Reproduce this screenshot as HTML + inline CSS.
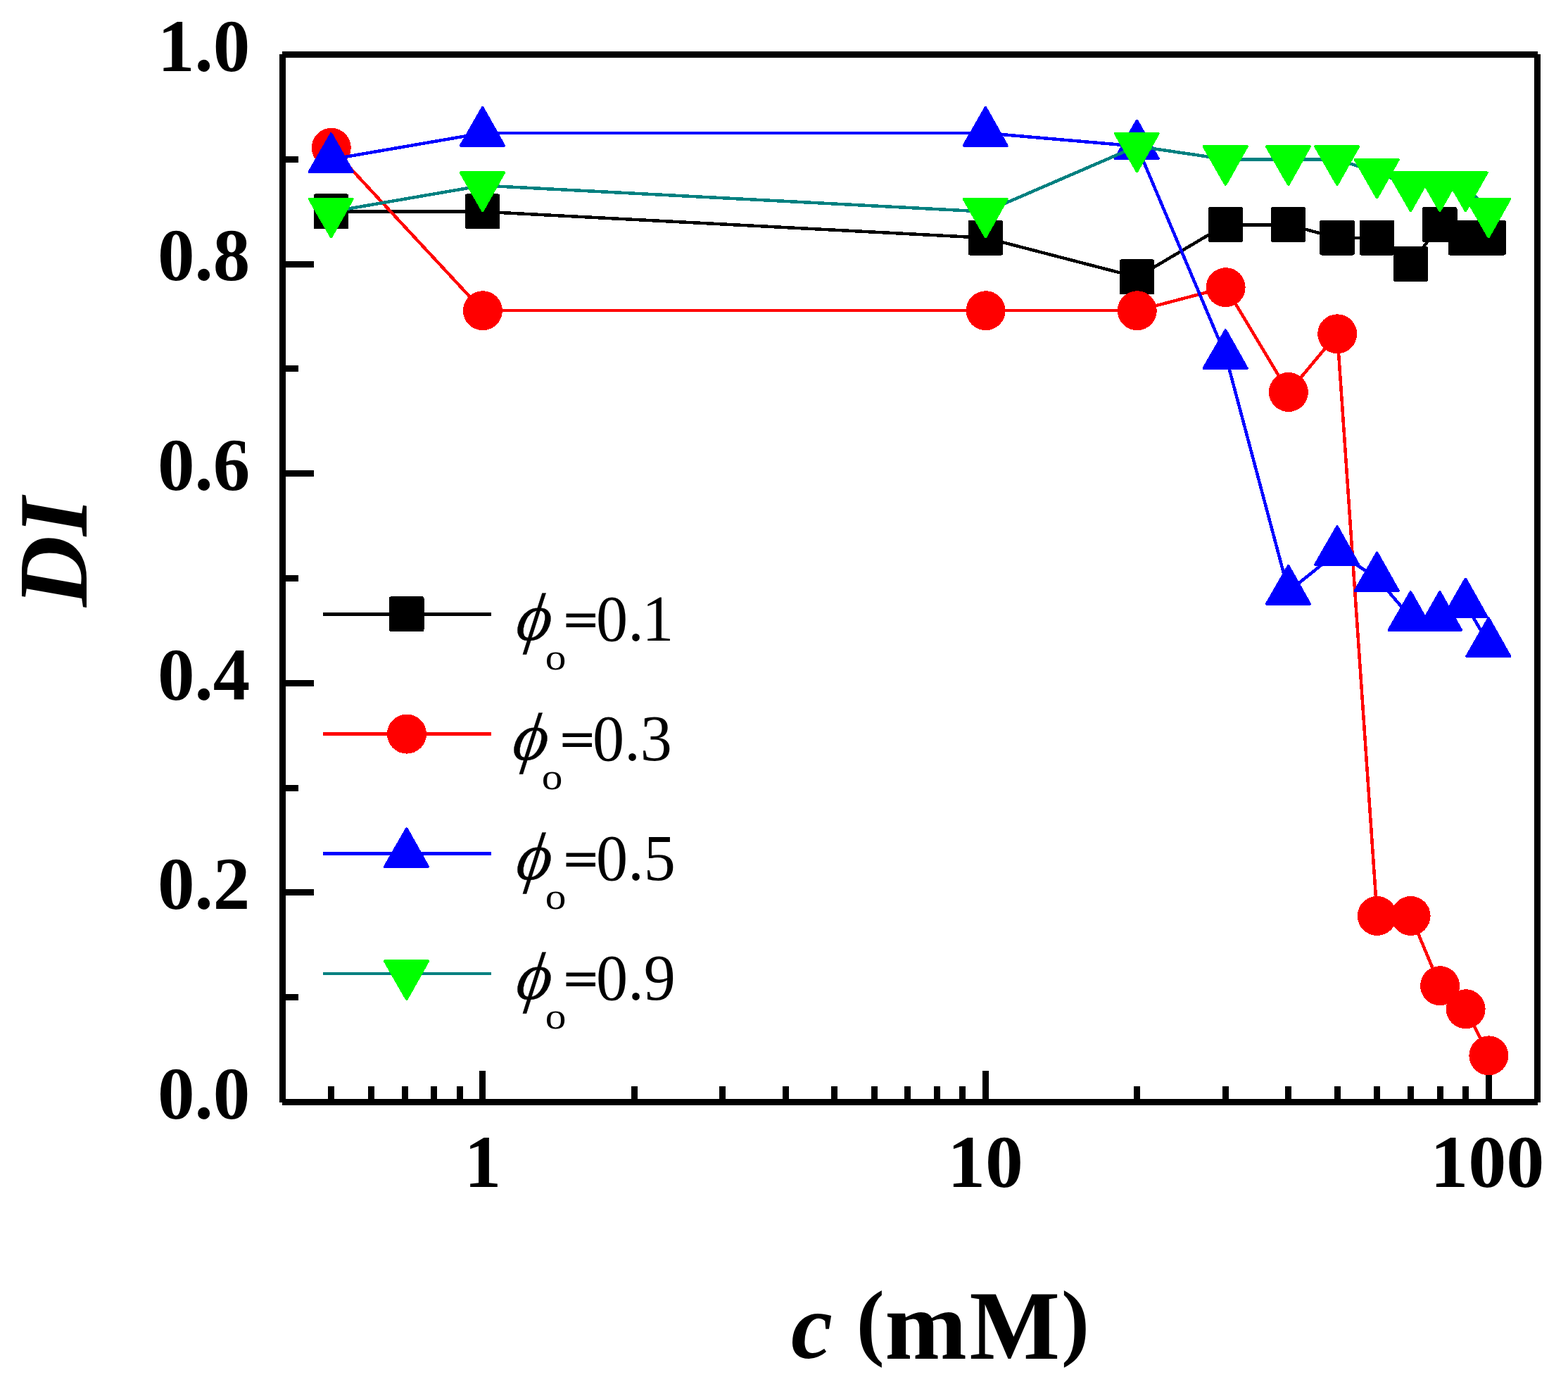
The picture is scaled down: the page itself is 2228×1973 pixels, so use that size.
<!DOCTYPE html>
<html lang="en">
<head>
<meta charset="utf-8">
<title>DI versus c (mM)</title>
<style>
html,body{margin:0;padding:0;background:#fff;}
body{width:2228px;height:1973px;overflow:hidden;}
svg{display:block;}
text{font-family:"Liberation Serif","DejaVu Serif",serif;fill:#000;}
.tk{font-weight:bold;font-size:105px;}
.lg{font-size:92px;}
.ax{font-weight:bold;}
</style>
</head>
<body>
<svg width="2228" height="1973" viewBox="0 0 2228 1973">
<rect width="2228" height="1973" fill="#fff"/>
<g stroke="#000" stroke-width="9" fill="none" shape-rendering="crispEdges">
<path d="M401 77.5H2185 M401 1565.5H2185 M401.5 77V1566 M2184.6 77V1566"/>
<path d="M401.5 1416.7h22.5 M401.5 1267.9h44.5 M401.5 1119.1h22.5 M401.5 970.3h44.5 M401.5 821.5h22.5 M401.5 672.7h44.5 M401.5 523.9h22.5 M401.5 375.1h44.5 M401.5 226.3h22.5 M470.76 1565.5v-22.5 M527.35 1565.5v-22.5 M575.2 1565.5v-22.5 M616.65 1565.5v-22.5 M653.21 1565.5v-22.5 M685.91 1565.5v-44.5 M901.06 1565.5v-22.5 M1026.92 1565.5v-22.5 M1116.21 1565.5v-22.5 M1185.48 1565.5v-22.5 M1242.07 1565.5v-22.5 M1289.91 1565.5v-22.5 M1331.36 1565.5v-22.5 M1367.92 1565.5v-22.5 M1400.62 1565.5v-44.5 M1615.77 1565.5v-22.5 M1741.63 1565.5v-22.5 M1830.92 1565.5v-22.5 M1900.19 1565.5v-22.5 M1956.78 1565.5v-22.5 M2004.63 1565.5v-22.5 M2046.07 1565.5v-22.5 M2082.63 1565.5v-22.5 M2115.34 1565.5v-44.5"/>
</g>
<g class="tk" text-anchor="end">
<text x="355.3" y="1588.8">0.0</text>
<text x="355.3" y="1291.2">0.2</text>
<text x="355.3" y="993.6">0.4</text>
<text x="355.3" y="696">0.6</text>
<text x="355.3" y="398.4">0.8</text>
<text x="355.3" y="100.8">1.0</text>
</g>
<g class="tk" text-anchor="middle">
<text transform="translate(685.91 1685.7) scale(1.0 1)">1</text>
<text transform="translate(1400.02 1685.7) scale(1.025 1)">10</text>
<text transform="translate(2113.34 1685.7) scale(1.03 1)">100</text>
</g>
<text class="ax" font-size="140" font-style="italic" transform="translate(122.6 862) rotate(-90)">DI</text>
<text class="ax" font-size="140"><tspan x="1124" y="1929.3" font-size="133" font-style="italic">c</tspan> <tspan x="1216.7" y="1917.2" font-size="120">(</tspan><tspan x="1257.2" y="1929.5">m</tspan><tspan x="1377.6" y="1929.5" textLength="128.5" lengthAdjust="spacingAndGlyphs">M</tspan><tspan x="1508.1" y="1917.2" font-size="120">)</tspan></text>
<g shape-rendering="crispEdges">
<polyline points="470.76,300.7 685.91,300.7 1400.62,337.9 1615.77,393.7 1741.63,319.3 1830.92,319.3 1900.19,337.9 1956.78,337.9 2004.63,375.1 2046.07,319.3 2082.63,337.9 2115.34,337.9" fill="none" stroke="#000" stroke-width="4.5" stroke-linejoin="round"/>
<rect x="445.76" y="275.4" width="49.5" height="50" rx="3" fill="#000"/>
<rect x="660.91" y="275.4" width="49.5" height="50" rx="3" fill="#000"/>
<rect x="1375.62" y="312.6" width="49.5" height="50" rx="3" fill="#000"/>
<rect x="1590.77" y="368.4" width="49.5" height="50" rx="3" fill="#000"/>
<rect x="1716.63" y="294" width="49.5" height="50" rx="3" fill="#000"/>
<rect x="1805.92" y="294" width="49.5" height="50" rx="3" fill="#000"/>
<rect x="1875.19" y="312.6" width="49.5" height="50" rx="3" fill="#000"/>
<rect x="1931.78" y="312.6" width="49.5" height="50" rx="3" fill="#000"/>
<rect x="1979.63" y="349.8" width="49.5" height="50" rx="3" fill="#000"/>
<rect x="2021.07" y="294" width="49.5" height="50" rx="3" fill="#000"/>
<rect x="2057.63" y="312.6" width="49.5" height="50" rx="3" fill="#000"/>
<rect x="2090.34" y="312.6" width="49.5" height="50" rx="3" fill="#000"/>
<polyline points="470.76,209.77 685.91,441.23 1400.62,441.23 1615.77,441.23 1741.63,408.17 1830.92,556.97 1900.19,474.3 1956.78,1300.97 2004.63,1300.97 2046.07,1400.17 2082.63,1433.23 2115.34,1499.37" fill="none" stroke="#f00" stroke-width="4.5" stroke-linejoin="round"/>
<circle cx="470.76" cy="209.77" r="28" fill="#f00"/>
<circle cx="685.91" cy="441.23" r="28" fill="#f00"/>
<circle cx="1400.62" cy="441.23" r="28" fill="#f00"/>
<circle cx="1615.77" cy="441.23" r="28" fill="#f00"/>
<circle cx="1741.63" cy="408.17" r="28" fill="#f00"/>
<circle cx="1830.92" cy="556.97" r="28" fill="#f00"/>
<circle cx="1900.19" cy="474.3" r="28" fill="#f00"/>
<circle cx="1956.78" cy="1300.97" r="28" fill="#f00"/>
<circle cx="2004.63" cy="1300.97" r="28" fill="#f00"/>
<circle cx="2046.07" cy="1400.17" r="28" fill="#f00"/>
<circle cx="2082.63" cy="1433.23" r="28" fill="#f00"/>
<circle cx="2115.34" cy="1499.37" r="28" fill="#f00"/>
<polyline points="470.76,226.3 685.91,189.1 1400.62,189.1 1615.77,207.7 1741.63,505.3 1830.92,840.1 1900.19,784.3 1956.78,821.5 2004.63,877.3 2046.07,877.3 2082.63,858.7 2115.34,914.5" fill="none" stroke="#00f" stroke-width="4.5" stroke-linejoin="round"/>
<polygon points="470.56,190.3 500.76,244 439.76,244" fill="#00f" stroke="#00f" stroke-width="4" stroke-linejoin="round"/>
<polygon points="685.71,153.1 715.91,206.8 654.91,206.8" fill="#00f" stroke="#00f" stroke-width="4" stroke-linejoin="round"/>
<polygon points="1400.42,153.1 1430.62,206.8 1369.62,206.8" fill="#00f" stroke="#00f" stroke-width="4" stroke-linejoin="round"/>
<polygon points="1615.57,171.7 1645.77,225.4 1584.77,225.4" fill="#00f" stroke="#00f" stroke-width="4" stroke-linejoin="round"/>
<polygon points="1741.43,469.3 1771.63,523 1710.63,523" fill="#00f" stroke="#00f" stroke-width="4" stroke-linejoin="round"/>
<polygon points="1830.72,804.1 1860.92,857.8 1799.92,857.8" fill="#00f" stroke="#00f" stroke-width="4" stroke-linejoin="round"/>
<polygon points="1899.99,748.3 1930.19,802 1869.19,802" fill="#00f" stroke="#00f" stroke-width="4" stroke-linejoin="round"/>
<polygon points="1956.58,785.5 1986.78,839.2 1925.78,839.2" fill="#00f" stroke="#00f" stroke-width="4" stroke-linejoin="round"/>
<polygon points="2004.43,841.3 2034.63,895 1973.63,895" fill="#00f" stroke="#00f" stroke-width="4" stroke-linejoin="round"/>
<polygon points="2045.87,841.3 2076.07,895 2015.07,895" fill="#00f" stroke="#00f" stroke-width="4" stroke-linejoin="round"/>
<polygon points="2082.43,822.7 2112.63,876.4 2051.63,876.4" fill="#00f" stroke="#00f" stroke-width="4" stroke-linejoin="round"/>
<polygon points="2115.14,878.5 2145.34,932.2 2084.34,932.2" fill="#00f" stroke="#00f" stroke-width="4" stroke-linejoin="round"/>
<polyline points="470.76,300.7 685.91,263.5 1400.62,300.7 1615.77,207.7 1741.63,226.3 1830.92,226.3 1900.19,226.3 1956.78,244.9 2004.63,263.5 2046.07,263.5 2082.63,263.5 2115.34,300.7" fill="none" stroke="#008080" stroke-width="4.5" stroke-linejoin="round"/>
<polygon points="470.56,336.2 500.76,282.5 439.76,282.5" fill="#0f0" stroke="#0f0" stroke-width="4" stroke-linejoin="round"/>
<polygon points="685.71,299 715.91,245.3 654.91,245.3" fill="#0f0" stroke="#0f0" stroke-width="4" stroke-linejoin="round"/>
<polygon points="1400.42,336.2 1430.62,282.5 1369.62,282.5" fill="#0f0" stroke="#0f0" stroke-width="4" stroke-linejoin="round"/>
<polygon points="1615.57,243.2 1645.77,189.5 1584.77,189.5" fill="#0f0" stroke="#0f0" stroke-width="4" stroke-linejoin="round"/>
<polygon points="1741.43,261.8 1771.63,208.1 1710.63,208.1" fill="#0f0" stroke="#0f0" stroke-width="4" stroke-linejoin="round"/>
<polygon points="1830.72,261.8 1860.92,208.1 1799.92,208.1" fill="#0f0" stroke="#0f0" stroke-width="4" stroke-linejoin="round"/>
<polygon points="1899.99,261.8 1930.19,208.1 1869.19,208.1" fill="#0f0" stroke="#0f0" stroke-width="4" stroke-linejoin="round"/>
<polygon points="1956.58,280.4 1986.78,226.7 1925.78,226.7" fill="#0f0" stroke="#0f0" stroke-width="4" stroke-linejoin="round"/>
<polygon points="2004.43,299 2034.63,245.3 1973.63,245.3" fill="#0f0" stroke="#0f0" stroke-width="4" stroke-linejoin="round"/>
<polygon points="2045.87,299 2076.07,245.3 2015.07,245.3" fill="#0f0" stroke="#0f0" stroke-width="4" stroke-linejoin="round"/>
<polygon points="2082.43,299 2112.63,245.3 2051.63,245.3" fill="#0f0" stroke="#0f0" stroke-width="4" stroke-linejoin="round"/>
<polygon points="2115.14,336.2 2145.34,282.5 2084.34,282.5" fill="#0f0" stroke="#0f0" stroke-width="4" stroke-linejoin="round"/>
<path d="M458.5 872.6H698" stroke="#000" stroke-width="4.5" fill="none"/>
<rect x="553" y="847.3" width="49.5" height="50" rx="3" fill="#000"/>
<path d="M458.5 1042.6H698" stroke="#f00" stroke-width="4.5" fill="none"/>
<circle cx="578" cy="1042.6" r="28" fill="#f00"/>
<path d="M458.5 1212.6H698" stroke="#00f" stroke-width="4.5" fill="none"/>
<polygon points="577.8,1177.4 608,1231.1 547,1231.1" fill="#00f" stroke="#00f" stroke-width="4" stroke-linejoin="round"/>
<path d="M458.5 1383H698" stroke="#008080" stroke-width="4.5" fill="none"/>
<polygon points="577.8,1419 608,1365.3 547,1365.3" fill="#0f0" stroke="#0f0" stroke-width="4" stroke-linejoin="round"/>
</g>
<text font-size="96" font-style="italic" stroke="#000" stroke-width="0.4" transform="translate(731 908.6) skewX(-8)">ϕ</text>
<text font-size="53" transform="translate(774.7 950.6) scale(1.12 1)">o</text>
<text font-size="94" transform="translate(800 909.6) scale(0.96 1)"><tspan x="-2.6" y="-6.8" font-family="'DejaVu Serif','Liberation Serif',serif" font-size="69">=</tspan><tspan x="49" y="0">0.<tspan dx="-2.6">1</tspan></tspan></text>
<text font-size="96" font-style="italic" stroke="#000" stroke-width="0.4" transform="translate(726 1079) skewX(-8)">ϕ</text>
<text font-size="53" transform="translate(769.7 1121) scale(1.12 1)">o</text>
<text font-size="94" transform="translate(795 1080) scale(0.96 1)"><tspan x="-2.6" y="-6.8" font-family="'DejaVu Serif','Liberation Serif',serif" font-size="69">=</tspan><tspan x="49" y="0">0.3</tspan></text>
<text font-size="96" font-style="italic" stroke="#000" stroke-width="0.4" transform="translate(731 1248.6) skewX(-8)">ϕ</text>
<text font-size="53" transform="translate(774.7 1290.6) scale(1.12 1)">o</text>
<text font-size="94" transform="translate(800 1249.6) scale(0.96 1)"><tspan x="-2.6" y="-6.8" font-family="'DejaVu Serif','Liberation Serif',serif" font-size="69">=</tspan><tspan x="49" y="0">0.5</tspan></text>
<text font-size="96" font-style="italic" stroke="#000" stroke-width="0.4" transform="translate(731 1419) skewX(-8)">ϕ</text>
<text font-size="53" transform="translate(774.7 1461) scale(1.12 1)">o</text>
<text font-size="94" transform="translate(800 1420) scale(0.96 1)"><tspan x="-2.6" y="-6.8" font-family="'DejaVu Serif','Liberation Serif',serif" font-size="69">=</tspan><tspan x="49" y="0">0.9</tspan></text>
</svg>
</body>
</html>
